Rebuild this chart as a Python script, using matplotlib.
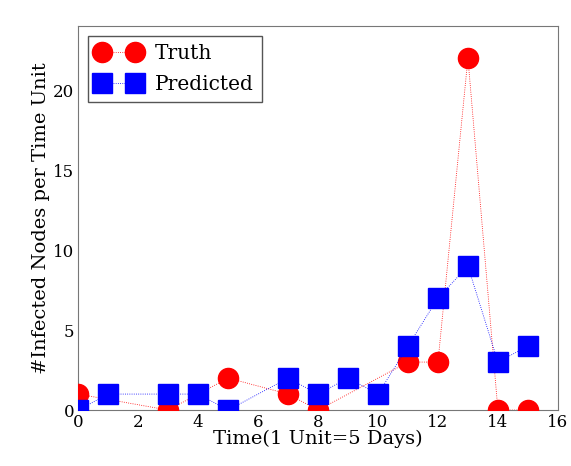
import matplotlib.pyplot as plt

# infection counts per time step
t_truth = [0, 3, 5, 7, 8, 11, 12, 13, 14, 15]
truth = [1, 0, 2, 1, 0, 3, 3, 22, 0, 0]
t_pred = [0, 1, 3, 4, 5, 7, 8, 9, 10, 11, 12, 13, 14, 15]
predicted = [0, 1, 1, 1, 0, 2, 1, 2, 1, 4, 7, 9, 3, 4]

plt.rcParams['font.family'] = 'DejaVu Serif'

fig = plt.figure(figsize=(5.71, 4.66), dpi=100)
ax = fig.add_axes([0.137, 0.12, 0.84, 0.824])

ax.plot(t_truth, truth, 'o', color='red', ls=':', lw=0.6, ms=14.5,
        mec='red', label='Truth', zorder=3)
ax.plot(t_pred, predicted, 's', color='blue', ls=':', lw=0.6, ms=14.5,
        mec='blue', label='Predicted', zorder=3)

ax.set_xlim(0, 16)
ax.set_ylim(0, 24)
ax.set_xticks(range(0, 17, 2))
ax.set_yticks(range(0, 21, 5))
ax.tick_params(labelsize=12, length=0, pad=3)
for s in ax.spines.values():
    s.set_color('#777777')

ax.set_xlabel('Time(1 Unit=5 Days)', fontsize=14, labelpad=-1)
ax.set_ylabel('#Infected Nodes per Time Unit', fontsize=14, labelpad=2)

leg = ax.legend(loc='upper left', numpoints=2, fontsize=14.5, fancybox=False,
                framealpha=1, edgecolor='#555555', handletextpad=0.7,
                borderaxespad=0.5, labelspacing=0.6, handlelength=2.2)

plt.savefig('out.png')
